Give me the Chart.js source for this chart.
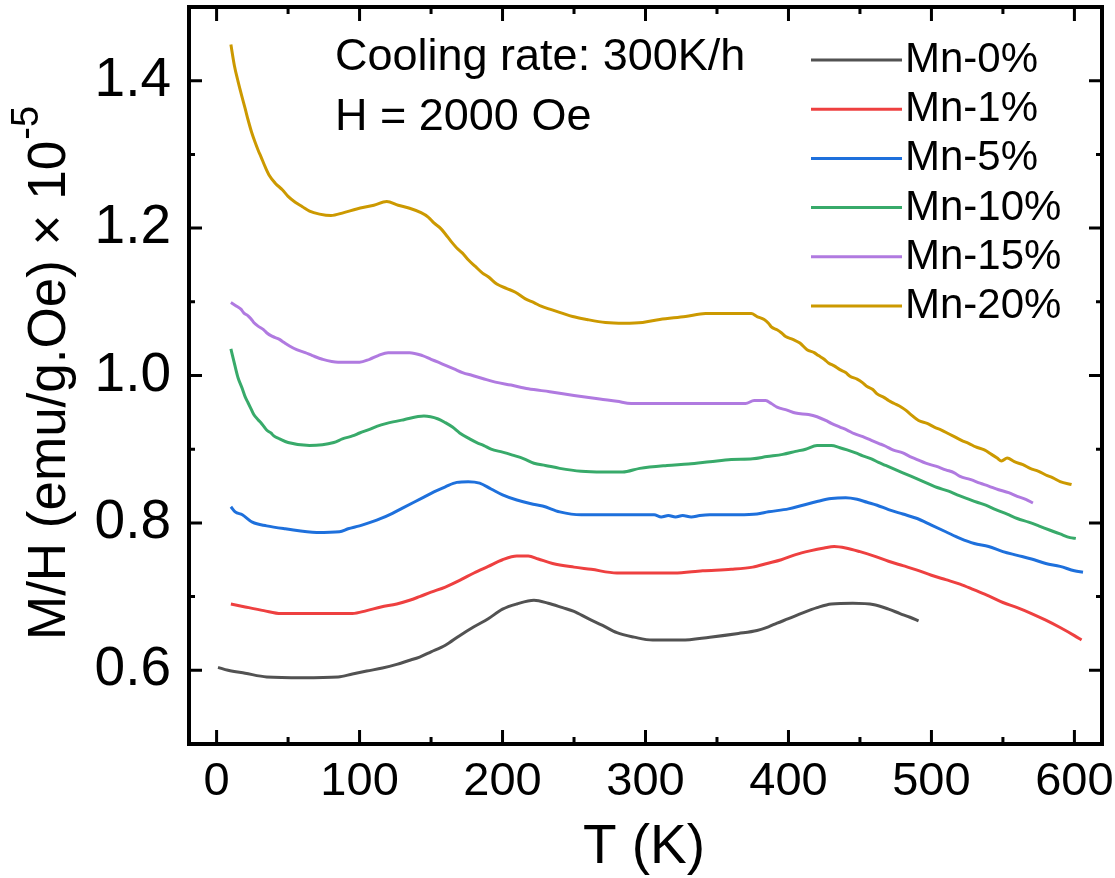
<!DOCTYPE html>
<html>
<head>
<meta charset="utf-8">
<title>M/H vs T</title>
<script src="https://cdn.jsdelivr.net/npm/chart.js@4.4.1/dist/chart.umd.min.js"></script>
<style>
  html, body { margin: 0; padding: 0; background: #fff; }
  #wrap { width: 1115px; height: 878px; position: relative; }
</style>
</head>
<body>
<div id="wrap"><canvas id="mhChart"></canvas></div>
<script>
// [T (K), M/H (x1e-5 emu/g.Oe)] per sample
const mn0 = [[1,0.604],[8,0.600],[20,0.596],[35,0.591],[60,0.590],[85,0.591],[95,0.595],[105,0.599],[116,0.603],[126,0.608],[134,0.613],[142,0.618],[150,0.625],[160,0.634],[170,0.647],[180,0.659],[190,0.670],[200,0.683],[210,0.690],[222,0.695],[232,0.691],[242,0.685],[250,0.680],[260,0.670],[270,0.661],[280,0.651],[292,0.645],[305,0.641],[325,0.641],[345,0.645],[365,0.650],[378,0.654],[386,0.659],[392,0.664],[400,0.670],[410,0.678],[420,0.685],[430,0.690],[445,0.691],[460,0.689],[470,0.683],[478,0.677],[485,0.672],[491,0.667]];
const mn1 = [[10,0.690],[20,0.686],[33,0.681],[45,0.677],[70,0.677],[95,0.677],[105,0.681],[115,0.686],[126,0.690],[135,0.695],[142,0.700],[150,0.706],[160,0.713],[170,0.722],[180,0.732],[190,0.741],[200,0.750],[210,0.755],[218,0.755],[225,0.751],[235,0.745],[250,0.740],[262,0.737],[280,0.732],[300,0.732],[320,0.732],[340,0.735],[360,0.737],[375,0.740],[385,0.745],[395,0.750],[405,0.757],[415,0.762],[425,0.766],[432,0.768],[440,0.766],[450,0.761],[460,0.755],[470,0.748],[480,0.742],[490,0.736],[500,0.729],[510,0.723],[520,0.717],[530,0.709],[540,0.701],[550,0.692],[560,0.685],[570,0.677],[580,0.668],[590,0.658],[600,0.647],[605,0.641]];
const mn5 = [[10,0.822],[13,0.815],[18,0.811],[25,0.801],[35,0.796],[48,0.792],[70,0.787],[86,0.788],[92,0.792],[100,0.796],[108,0.801],[115,0.806],[123,0.813],[130,0.820],[138,0.828],[145,0.835],[152,0.842],[160,0.849],[168,0.855],[176,0.856],[184,0.854],[192,0.846],[200,0.838],[210,0.831],[220,0.826],[228,0.823],[240,0.815],[255,0.811],[275,0.811],[306,0.811],[311,0.808],[316,0.810],[321,0.808],[326,0.810],[332,0.808],[338,0.810],[345,0.811],[365,0.811],[378,0.812],[386,0.815],[400,0.819],[410,0.824],[420,0.829],[430,0.833],[440,0.834],[448,0.832],[455,0.828],[462,0.824],[470,0.818],[480,0.812],[490,0.806],[500,0.797],[510,0.788],[520,0.779],[530,0.772],[540,0.768],[550,0.761],[560,0.756],[570,0.751],[580,0.745],[590,0.741],[600,0.735],[606,0.733]];
const mn10 = [[10,1.036],[13,1.012],[15,0.997],[18,0.982],[20,0.971],[22,0.963],[24,0.955],[26,0.947],[29,0.940],[31,0.936],[33,0.931],[35,0.926],[38,0.922],[40,0.918],[44,0.914],[50,0.909],[65,0.905],[82,0.909],[88,0.914],[95,0.918],[100,0.922],[107,0.927],[112,0.931],[119,0.935],[131,0.940],[145,0.945],[155,0.941],[160,0.936],[165,0.930],[170,0.922],[177,0.914],[182,0.909],[187,0.905],[192,0.900],[200,0.896],[207,0.892],[215,0.887],[222,0.881],[230,0.878],[240,0.874],[255,0.870],[270,0.869],[284,0.869],[296,0.874],[315,0.878],[330,0.880],[345,0.883],[360,0.886],[375,0.887],[385,0.890],[396,0.893],[405,0.897],[412,0.900],[420,0.905],[430,0.905],[436,0.902],[441,0.899],[447,0.895],[452,0.891],[458,0.887],[463,0.882],[468,0.878],[474,0.873],[480,0.868],[486,0.863],[492,0.858],[498,0.853],[504,0.848],[512,0.843],[518,0.838],[525,0.833],[532,0.828],[538,0.824],[545,0.818],[553,0.812],[560,0.806],[568,0.801],[575,0.796],[583,0.790],[590,0.785],[597,0.780],[601,0.779]];
const mn15 = [[10,1.099],[14,1.094],[17,1.090],[19,1.085],[22,1.081],[24,1.077],[26,1.072],[29,1.067],[33,1.062],[35,1.058],[39,1.053],[44,1.049],[47,1.045],[51,1.040],[56,1.035],[62,1.031],[67,1.027],[74,1.022],[85,1.018],[100,1.018],[107,1.022],[113,1.027],[120,1.031],[135,1.031],[144,1.027],[150,1.022],[155,1.018],[161,1.013],[166,1.009],[172,1.004],[179,1.000],[186,0.996],[195,0.991],[206,0.987],[218,0.982],[233,0.978],[250,0.973],[268,0.968],[280,0.965],[290,0.962],[370,0.962],[376,0.966],[384,0.966],[388,0.962],[392,0.957],[399,0.953],[405,0.949],[414,0.947],[420,0.944],[426,0.939],[430,0.935],[436,0.930],[441,0.926],[446,0.921],[452,0.917],[458,0.912],[463,0.908],[468,0.904],[473,0.899],[480,0.895],[485,0.890],[490,0.886],[496,0.881],[503,0.877],[510,0.872],[516,0.868],[520,0.863],[527,0.859],[534,0.854],[540,0.850],[547,0.845],[554,0.841],[560,0.836],[566,0.832],[571,0.827]];
const mn20 = [[10,1.449],[12.5,1.420],[15,1.399],[17.5,1.380],[20,1.362],[22,1.347],[24.5,1.330],[27,1.316],[29,1.306],[31,1.297],[34,1.283],[37,1.271],[41,1.261],[46,1.252],[50,1.243],[55,1.235],[60,1.229],[65,1.223],[72,1.219],[80,1.217],[89,1.221],[98,1.226],[110,1.231],[119,1.236],[127,1.231],[135,1.227],[143,1.221],[148,1.215],[152,1.207],[157,1.199],[160,1.192],[164,1.182],[168,1.173],[172,1.166],[176,1.157],[181,1.148],[186,1.139],[190,1.134],[196,1.124],[203,1.118],[209,1.113],[216,1.104],[222,1.099],[227,1.094],[233,1.090],[241,1.085],[249,1.080],[259,1.076],[272,1.072],[285,1.071],[298,1.072],[310,1.076],[328,1.080],[342,1.084],[360,1.084],[374,1.084],[378,1.080],[383,1.076],[386,1.071],[388,1.066],[392,1.062],[395,1.058],[398,1.053],[403,1.049],[408,1.044],[413,1.035],[418,1.031],[421,1.027],[425,1.022],[428,1.017],[432,1.013],[436,1.008],[440,1.004],[443,0.999],[448,0.995],[452,0.990],[455,0.985],[459,0.981],[462,0.975],[467,0.970],[470,0.966],[474,0.962],[479,0.957],[482,0.953],[485,0.948],[491,0.939],[497,0.935],[502,0.930],[507,0.926],[512,0.921],[516,0.917],[521,0.912],[526,0.908],[531,0.903],[537,0.899],[542,0.893],[546,0.888],[549,0.884],[553,0.888],[558,0.883],[564,0.879],[569,0.874],[575,0.870],[580,0.865],[585,0.861],[590,0.856],[598,0.852]];

const seriesData = [mn0, mn1, mn5, mn10, mn15, mn20];
const seriesLabels = ["Mn-0%", "Mn-1%", "Mn-5%", "Mn-10%", "Mn-15%", "Mn-20%"];
const seriesColors = ["#525252", "#ee4040", "#1e70dc", "#38aa6a", "#b07ae0", "#cc9900"];

const xTicks = [0, 100, 200, 300, 400, 500, 600];
const xMinorTicks = [50, 150, 250, 350, 450, 550];
const yTicks = [0.6, 0.8, 1.0, 1.2, 1.4];
const yMinorTicks = [0.7, 0.9, 1.1, 1.3];

const noteLines = ["Cooling rate: 300K/h", "H = 2000 Oe"];
const xTitle = "T (K)";
const yTitle = "M/H (emu/g.Oe) \u00d7 10";
const yTitleExp = "-5";

const FONT = '"Liberation Sans", Arial, Helvetica, sans-serif';

// frame, inward ticks, axis titles, note and legend
const decorations = {
  id: 'decorations',
  afterDatasetsDraw(chart) {
    const { ctx, chartArea: a, scales: { x, y } } = chart;
    const f = { l: a.left + 1, t: a.top, r: a.right - 1, b: a.bottom };
    ctx.save();
    ctx.strokeStyle = '#000';
    ctx.lineWidth = 4;
    ctx.strokeRect(f.l, f.t, f.r - f.l, f.b - f.t);

    ctx.lineWidth = 3;
    ctx.beginPath();
    const mark = (scale, vals, len) => {
      vals.forEach(v => {
        const p = scale.getPixelForValue(v);
        if (scale.isHorizontal()) {
          ctx.moveTo(p, f.b); ctx.lineTo(p, f.b - len);
          ctx.moveTo(p, f.t); ctx.lineTo(p, f.t + len);
        } else {
          ctx.moveTo(f.l, p); ctx.lineTo(f.l + len, p);
          ctx.moveTo(f.r, p); ctx.lineTo(f.r - len, p);
        }
      });
    };
    mark(x, xTicks, 14);
    mark(x, xMinorTicks, 7);
    mark(y, yTicks, 13);
    mark(y, yMinorTicks, 6);
    ctx.stroke();
    ctx.restore();
  },
  afterDraw(chart) {
    const { ctx } = chart;
    ctx.save();
    ctx.fillStyle = '#000';
    ctx.textBaseline = 'alphabetic';

    // x title
    ctx.font = `55px ${FONT}`;
    ctx.textAlign = 'center';
    ctx.fillText(xTitle, 644, 863);

    // y title with superscript exponent, rotated
    ctx.save();
    ctx.translate(65, 373);
    ctx.rotate(-Math.PI / 2);
    ctx.textAlign = 'left';
    ctx.font = `53px ${FONT}`;
    const wMain = ctx.measureText(yTitle).width;
    ctx.font = `38px ${FONT}`;
    const wExp = ctx.measureText(yTitleExp).width;
    const start = -(wMain + 1 + wExp) / 2;
    ctx.font = `53px ${FONT}`;
    ctx.fillText(yTitle, start, 0);
    ctx.font = `38px ${FONT}`;
    ctx.fillText(yTitleExp, start + wMain + 1, -27);
    ctx.restore();

    // note
    ctx.font = `45px ${FONT}`;
    ctx.textAlign = 'left';
    noteLines.forEach((line, i) => ctx.fillText(line, 335, 70 + i * 60));

    // legend
    ctx.font = `42px ${FONT}`;
    chart.data.datasets.forEach((ds, i) => {
      const yy = 60 + i * 49.2;
      ctx.strokeStyle = ds.borderColor;
      ctx.lineWidth = 3;
      ctx.beginPath();
      ctx.moveTo(811, yy);
      ctx.lineTo(902, yy);
      ctx.stroke();
      ctx.fillText(ds.label, 905, yy + 12);
    });
    ctx.restore();
  }
};

new Chart(document.getElementById('mhChart'), {
  type: 'line',
  data: {
    datasets: seriesData.map((pts, i) => ({
      label: seriesLabels[i],
      data: pts.map(([t, m]) => ({ x: t, y: m })),
      borderColor: seriesColors[i],
      borderWidth: 3,
      pointRadius: 0,
      fill: false,
      cubicInterpolationMode: 'monotone'
    }))
  },
  options: {
    responsive: true,
    maintainAspectRatio: false,
    animation: false,
    layout: { padding: { left: 0, top: 7, right: 12, bottom: 0 } },
    plugins: {
      legend: { display: false },
      tooltip: { enabled: false }
    },
    scales: {
      x: {
        type: 'linear',
        min: -20,
        max: 620,
        grid: { display: false, drawTicks: false },
        border: { display: false },
        afterBuildTicks: (scale) => { scale.ticks = xTicks.map(v => ({ value: v })); },
        afterFit: (scale) => { scale.height = 134; scale.paddingLeft = 0; scale.paddingRight = 0; },
        ticks: {
          autoSkip: false,
          maxRotation: 0,
          padding: 10,
          color: '#000',
          font: { family: FONT, size: 47 },
          callback: (v) => String(v)
        }
      },
      y: {
        type: 'linear',
        min: 0.5,
        max: 1.5,
        grid: { display: false, drawTicks: false },
        border: { display: false },
        afterBuildTicks: (scale) => { scale.ticks = yTicks.map(v => ({ value: v })); },
        afterFit: (scale) => { scale.width = 188; scale.paddingTop = 0; scale.paddingBottom = 0; },
        ticks: {
          padding: 17,
          color: '#000',
          font: { family: FONT, size: 55 },
          callback: (v) => Number(v).toFixed(1)
        }
      }
    }
  },
  plugins: [decorations]
});
</script>
</body>
</html>
